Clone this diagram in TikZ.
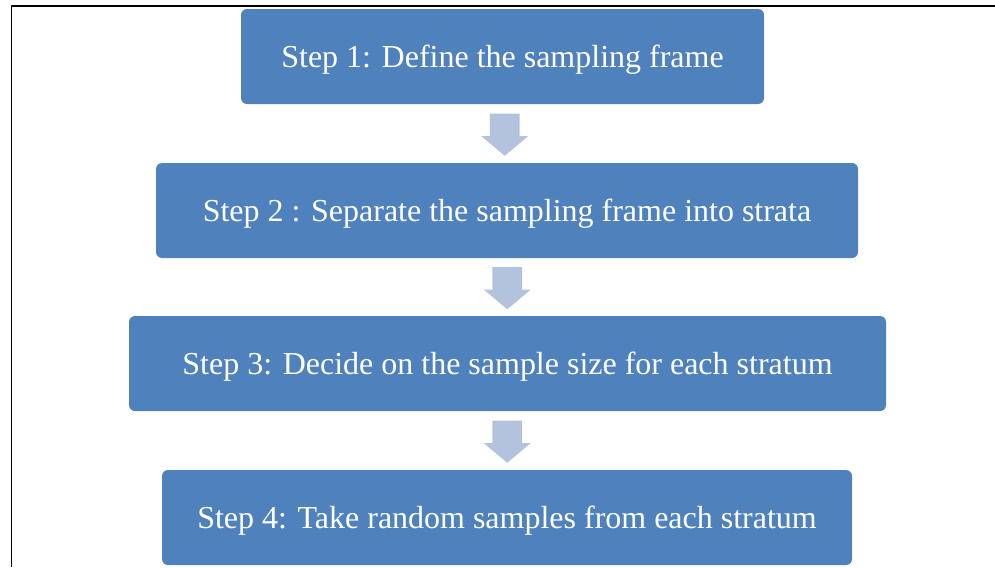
\documentclass[tikz,border=0pt]{standalone}
\usepackage{fontspec}
\setmainfont{Liberation Serif}
\usepackage{xcolor}
\usetikzlibrary{shapes.arrows,calc}
\definecolor{stepblue}{HTML}{4F81BD}
\definecolor{arrowblue}{HTML}{B3C3DE}
\tikzset{
  stepbox/.style={fill=stepblue, rounded corners=0.12cm, minimum height=1.9cm, inner sep=0pt,
    text=white, font=\fontsize{18.2}{22}\selectfont, text height=16.5pt, text depth=4pt},
  downarrow/.style={single arrow, shape border rotate=270, fill=arrowblue, draw=none,
    inner sep=0.29cm, minimum height=0.74cm, minimum width=0.92cm,
    single arrow head extend=0.17cm, single arrow tip angle=100, yshift=0.1cm}
}

\begin{document}
\begin{tikzpicture}
\useasboundingbox (0,0) rectangle (19.9,-11.34);
\draw [line width=1pt] (0.23,-11.34) -- (0.23,-0.12) -- (19.9,-0.12);

\node (S1) at (10.05,-1.13) [stepbox, minimum width=10.46cm] {Step 1: Define the sampling frame};
\node (S2) at (10.14,-4.21) [stepbox, minimum width=14.04cm] {Step 2 : Separate the sampling frame into strata};
\node (S3) at (10.15,-7.27) [stepbox, minimum width=15.14cm] {Step 3: Decide on the sample size for each stratum};
\node (S4) at (10.14,-10.35) [stepbox, minimum width=13.8cm] {Step 4: Take random samples from each stratum};

\node (A1) at ($(S1.south)!0.5!(S2.north)$) [downarrow] {};
\node (A2) at ($(S2.south)!0.5!(S3.north)$) [downarrow] {};
\node (A3) at ($(S3.south)!0.5!(S4.north)$) [downarrow] {};
\end{tikzpicture}
\end{document}
